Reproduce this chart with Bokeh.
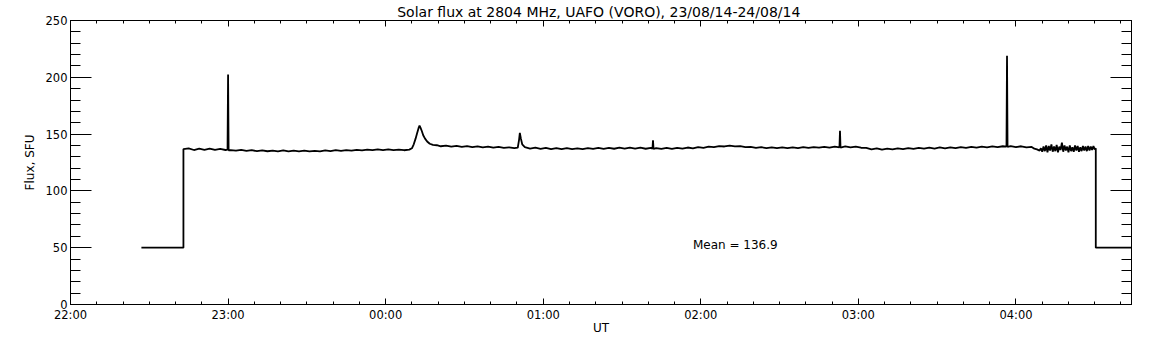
from bokeh.plotting import figure
from bokeh.models import Range1d, FixedTicker, LinearAxis, Label
from bokeh.embed import file_html
from bokeh.resources import INLINE

# ---------------- data ----------------
TITLE = "Solar flux at 2804 MHz, UAFO (VORO),  23/08/14-24/08/14"
X_LABEL = "UT"
Y_LABEL = "Flux, SFU"
MEAN_TEXT = "Mean =  136.9"

# x positions are minutes after 22:00 UT
time_ticks_min = [0, 60, 120, 180, 240, 300, 360]
time_tick_labels = ["22:00", "23:00", "00:00", "01:00", "02:00", "03:00", "04:00"]
flux_ticks = [0, 50, 100, 150, 200, 250]

t_minutes = [
    27, 43, 43,
    45, 47, 49, 51, 53, 55, 57, 59,
    59.8, 60, 60.2,
    61, 63, 65, 67, 69, 71, 73, 75, 77, 79, 81, 83, 85, 87, 89, 91, 93, 95, 97, 99,
    101, 103, 105, 107, 109, 111, 113, 115, 117, 119, 121, 123, 125, 127, 129,
    130, 130.7, 131.4, 132, 132.5, 132.9, 133.3, 133.8, 134.3, 135, 135.8, 136.8, 138, 139.5,
    141, 143, 145, 147, 149, 151, 153, 155, 157, 159, 161, 163, 165, 167, 169,
    170.3, 170.8, 171.1, 171.5, 172, 173,
    175, 177, 179, 181, 183, 185, 187, 189, 191, 193, 195, 197, 199, 201, 203, 205,
    207, 209, 211, 213, 215, 217, 219, 221,
    221.6, 221.8, 222.0,
    223, 225, 227, 229, 231, 233, 235, 237, 239, 241, 243, 245, 247, 249, 251, 253,
    255, 257, 259, 261, 263, 265, 267, 269, 271, 273, 275, 277, 279, 281, 283, 285,
    287, 289, 291,
    292.8, 293, 293.2,
    295, 297, 299, 301, 303, 305, 307, 309, 311, 313, 315, 317, 319, 321, 323, 325,
    327, 329, 331, 333, 335, 337, 339, 341, 343, 345, 347, 349, 351, 353, 355,
    356.4, 356.6, 356.8,
    358, 360, 362, 364, 366, 367, 368, 369, 369.5, 370, 370.5, 371, 371.5, 372, 372.5,
    373, 373.5, 374, 374.5, 375, 375.5, 376, 376.5, 377, 377.5, 378, 378.5, 379, 379.5,
    380, 380.5, 381, 381.5, 382, 382.5, 383, 383.5, 384, 384.5, 385, 385.5, 386, 386.5,
    387, 387.5, 388, 388.5, 389, 389.5, 390, 390.4, 390.4, 404,
]

flux_sfu = [
    50, 50, 136.8,
    137.4, 136.0, 137.2, 136.2, 137.3, 136.1, 137.0, 136.0,
    136.4, 202.5, 135.8,
    135.9, 135.4, 136.1, 135.2, 135.8, 135.0, 135.7, 134.9, 135.5, 134.8, 135.6, 134.7,
    135.4, 134.8, 135.5, 134.7, 135.3, 134.8, 135.6, 135.0,
    135.8, 135.2, 135.9, 135.4, 136.2, 135.6, 136.4, 135.8, 136.5, 135.9, 136.5, 135.9,
    136.4, 135.8, 136.3,
    137.5, 141, 146, 151, 155, 157.5, 155.5, 152.5, 149, 146, 143.5, 141.5, 140.5, 140.2,
    139.3, 139.9, 138.9, 139.6, 138.7, 139.4, 138.5, 139.2, 138.3, 139.0, 138.0, 138.7,
    137.8, 138.4, 137.6,
    138.0, 145, 151, 146, 141, 138.5,
    137.2, 138.0, 136.9, 137.8, 136.8, 137.7, 136.7, 137.6, 136.8, 137.5, 136.8, 137.7,
    136.9, 137.8, 137.0, 137.9,
    137.1, 138.0, 137.2, 138.1, 137.2, 138.0, 137.1, 137.9,
    137.2, 144.5, 137.0,
    137.7, 136.9, 137.8, 137.0, 137.9, 137.2, 138.2, 137.5, 138.5, 137.9, 138.9, 138.5,
    139.5, 139.1, 139.8, 139.2,
    139.4, 138.5, 138.7, 137.9, 138.5, 137.7, 138.4, 137.6, 138.3, 137.6, 138.4, 137.7,
    138.5, 137.8, 138.6, 138.0,
    138.8, 138.1, 138.9,
    138.4, 153, 138.2,
    139.2, 138.4, 139.0, 138.0, 137.8, 136.6, 137.5, 136.3, 137.2, 136.6, 137.5, 136.8,
    137.7, 137.0, 137.9, 137.2,
    138.1, 137.3, 138.3, 137.5, 138.4, 137.7, 138.6, 137.9, 138.8, 138.1, 138.9, 138.3,
    139.1, 138.5, 139.3,
    139.0, 219, 138.8,
    139.4, 138.6, 139.3, 138.3, 138.7, 137.2, 136.5, 135.5, 137.5, 134.5, 139, 135, 140,
    134, 139.5,
    135.5, 141, 134.5, 139, 135, 140.5, 134, 139, 136, 142.5, 134.5, 140, 135.5, 139,
    134, 140, 135, 138.5, 134.5, 140, 135.5, 139.5, 134.5, 138.5, 135, 139.5, 135.5, 139,
    135, 139.5, 135.5, 139, 136, 139.5, 136.5, 137.5, 50, 50,
]

# ---------------- figure ----------------
FONT = "DejaVu Sans"

p = figure(
    width=1152, height=345,
    x_range=Range1d(0, 404), y_range=Range1d(0, 250),
    output_backend="svg", toolbar_location=None,
    min_border_left=70, min_border_right=21, min_border_top=20, min_border_bottom=41,
    background_fill_color="white", border_fill_color="white",
)
p.grid.visible = False
p.outline_line_color = "black"
p.outline_line_width = 1

p.title.text = TITLE
p.title.align = "center"
p.title.text_font = FONT
p.title.text_font_size = "14px"
p.title.text_font_style = "normal"
p.title.text_color = "black"
p.title.standoff = 2

minor_x = list(range(0, 405, 10))
minor_y = list(range(0, 251, 10))

xa = p.xaxis[0]
xa.ticker = FixedTicker(ticks=time_ticks_min, minor_ticks=minor_x)
xa.major_label_overrides = dict(zip(time_ticks_min, time_tick_labels))
xa.axis_label = X_LABEL

ya = p.yaxis[0]
ya.ticker = FixedTicker(ticks=flux_ticks, minor_ticks=minor_y)
ya.axis_label = Y_LABEL

xt = LinearAxis(ticker=FixedTicker(ticks=time_ticks_min, minor_ticks=minor_x))
yr = LinearAxis(ticker=FixedTicker(ticks=flux_ticks, minor_ticks=minor_y))
p.add_layout(xt, "above")
p.add_layout(yr, "right")

for ax in (xa, xt):
    ax.major_tick_in = 6
    ax.minor_tick_in = 3
for ax in (ya, yr):
    ax.major_tick_in = 21
    ax.minor_tick_in = 10

for ax in (xa, ya, xt, yr):
    ax.major_tick_out = 0
    ax.minor_tick_out = 0
    ax.axis_line_color = "black"
    ax.major_tick_line_color = "black"
    ax.minor_tick_line_color = "black"
    ax.major_label_text_font = FONT
    ax.major_label_text_font_size = "11.5px"
    ax.major_label_text_color = "black"
    ax.axis_label_text_font = FONT
    ax.axis_label_text_font_size = "12px"
    ax.axis_label_text_font_style = "normal"
    ax.axis_label_text_color = "black"

# mirrored axes on top/right: ticks only, no labels drawn
for ax in (xt, yr):
    ax.major_label_text_font_size = "0px"
    ax.major_label_text_color = None
    ax.major_label_standoff = 0

xa.major_label_standoff = 3
xa.axis_label_standoff = -4
ya.major_label_standoff = 3
ya.axis_label_standoff = 6

p.line(t_minutes, flux_sfu, line_color="black", line_width=1.8)

p.add_layout(Label(x=237, y=52, text=MEAN_TEXT, text_font=FONT,
                   text_font_size="12px", text_color="black",
                   text_align="left", text_baseline="alphabetic"))

open("out.html", "w").write(file_html(p, INLINE))
